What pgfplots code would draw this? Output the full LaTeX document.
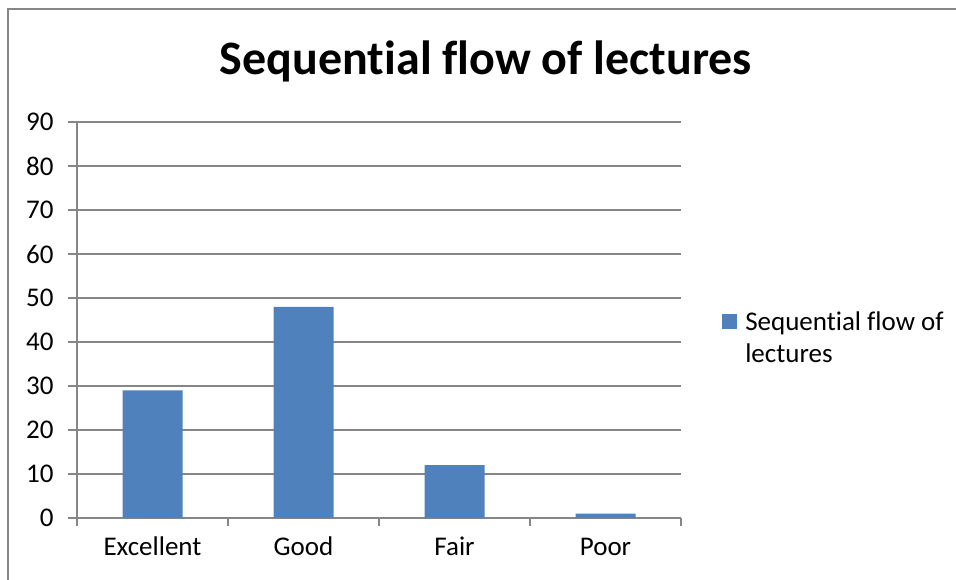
\documentclass[border=0pt]{standalone}
\usepackage{fontspec}
\setmainfont{Carlito}[Ligatures=NoCommon]
\usepackage{pgfplots}
\pgfplotsset{compat=1.18}
\definecolor{barblue}{HTML}{4F81BD}
\definecolor{gridgray}{HTML}{868686}
\begin{document}
\begin{tikzpicture}[x=1pt,y=1pt]
\useasboundingbox (0,0) rectangle (956,580);
\draw[gridgray, line width=1.2pt] (8,0) -- (8,571) -- (956,571);
\node[anchor=base, font=\fontsize{48}{52}\selectfont\bfseries] at (486,505) {Sequential flow of lectures};
\begin{axis}[
  at={(77pt,62pt)}, anchor=south west,
  scale only axis, width=604pt, height=396pt,
  xmin=0, xmax=4, ymin=0, ymax=90,
  ytick={0,10,...,90},
  xtick={0.5,1.5,2.5,3.5},
  xticklabels={Excellent,Good,Fair,Poor},
  minor xtick={0,1,2,3,4},
  axis x line=bottom, axis y line=left,
  axis line style={-, gridgray, line width=1.2pt},
  ymajorgrids, grid style={gridgray, line width=1.2pt},
  major tick length=9pt, minor tick length=8pt,
  tick align=outside,
  every major x tick/.append style={draw=none},
  every tick/.append style={gridgray, line width=1.2pt},
  every minor tick/.append style={gridgray, line width=1.2pt},
  tick label style={font=\fontsize{27}{32}\selectfont},
  /pgf/number format/assume math mode=true,
  yticklabel style={xshift=-11pt},
  xticklabel style={yshift=-6pt, text height=19pt, text depth=6pt},
  legend style={draw=none, at={(1.063,0.455)}, anchor=west, font=\fontsize{27}{32}\selectfont, cells={align=left}},
  legend image code/.code={\fill[barblue] (0pt,9pt) rectangle (15pt,24pt); \path (21pt,9pt);},
]
\addplot[ybar, bar width=60pt, fill=barblue, draw=none] coordinates {(0.5,29) (1.5,48) (2.5,12) (3.5,1)};
\addlegendentry{Sequential flow of\\lectures}
\end{axis}
\end{tikzpicture}
\end{document}
